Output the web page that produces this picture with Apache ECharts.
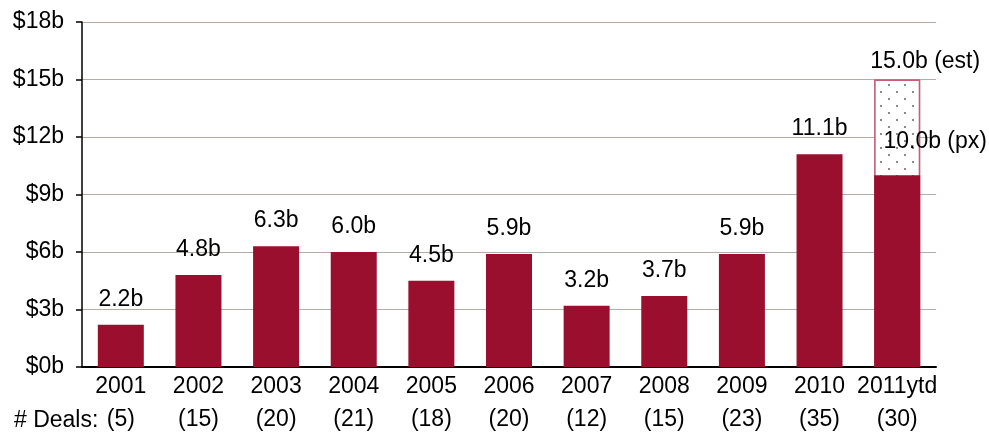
<!DOCTYPE html>
<html><head><meta charset="utf-8">
<script src="https://cdn.jsdelivr.net/npm/echarts@6/dist/echarts.min.js"></script>
<style>html,body{margin:0;padding:0;background:#fff}#c{width:989px;height:434px}</style>
</head><body><div id="c"></div>
<script>
const years = ['2001','2002','2003','2004','2005','2006','2007','2008','2009','2010','2011ytd'];
const deals = [5,15,20,21,18,20,12,15,23,35,30];
const values = [2.2,4.8,6.3,6.0,4.5,5.9,3.2,3.7,5.9,11.1,10.0];
const estimate = [null,null,null,null,null,null,null,null,null,null,15.0];
const yTicks = [0,3,6,9,12,15,18];

const FONT = 'Liberation Sans, Arial, sans-serif';
const FS = 23;
const chart = echarts.init(document.getElementById('c'));
const valData = values.map((v,i)=> i===values.length-1 ? {value:v,label:{formatter:v.toFixed(1)+'b (px)',offset:[38,-8]}} : v);
chart.setOption({
  animation:false,
  grid:{left:82,right:53,top:22,bottom:67,outerBoundsMode:'none',containLabel:false},
  xAxis:{type:'category',data:years.map((y,i)=>y+'\n('+deals[i]+')'),
    axisLine:{lineStyle:{color:'#000',width:2}},axisTick:{show:false},
    axisLabel:{color:'#000',fontSize:FS,fontFamily:FONT,lineHeight:33,margin:3,interval:0}},
  yAxis:{type:'value',min:yTicks[0],max:yTicks[yTicks.length-1],interval:3,
    axisLine:{show:true,lineStyle:{color:'#000',width:1.5}},
    axisTick:{show:true,length:6,lineStyle:{color:'#000',width:1.5}},
    splitLine:{lineStyle:{color:'#b5aca8',width:1}},
    axisLabel:{color:'#000',fontSize:FS,fontFamily:FONT,margin:18,formatter:v=>'$'+v+'b'}},
  series:[
    {type:'bar',data:estimate,barWidth:46,barGap:'-100%',z:1,
      itemStyle:{color:'#fff',borderColor:'#c4607a',borderWidth:1.5,
        decal:{symbol:'rect',symbolSize:1,color:'#8a8a8a',backgroundColor:'#fff',dashArrayX:[[2,14],[0,8,2,6]],dashArrayY:[2,4.5]}},
      label:{show:true,position:'top',distance:6,color:'#000',fontSize:FS,fontFamily:FONT,offset:[28,0],formatter:p=>p.value.toFixed(1)+'b (est)'}},
    {type:'bar',data:valData,barWidth:46,z:2,
      itemStyle:{color:'#9b0f2e'},
      label:{show:true,position:'top',distance:14,color:'#000',fontSize:FS,fontFamily:FONT,
        formatter:p=>p.value.toFixed(1)+'b'}}
  ],
  graphic:[{type:'text',left:14,top:409,style:{text:'# Deals:',fill:'#000',font:FS+'px '+FONT}}]
});
</script></body></html>
